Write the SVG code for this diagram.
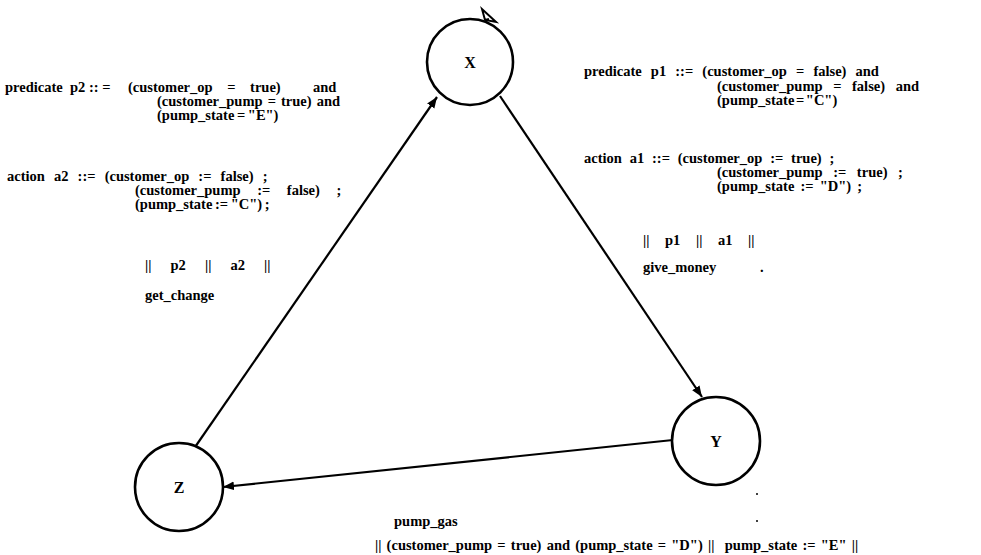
<svg xmlns="http://www.w3.org/2000/svg" width="981" height="555" viewBox="0 0 981 555">
<style>
text{font-family:"Liberation Serif","Times New Roman",serif;font-weight:bold;font-size:14.5px;fill:#000;white-space:pre}
.node circle{fill:#fff;stroke:#000;stroke-width:2.6}
.lbl{font-size:16px;text-anchor:middle}
.edge{stroke:#000;stroke-width:2.2;fill:none;marker-end:url(#ah)}
</style>
<defs>
<marker id="ah" viewBox="0 0 10 10" refX="10" refY="5" markerWidth="5" markerHeight="5" orient="auto" markerUnits="strokeWidth">
<path d="M0,1 L10,5 L0,9 z" fill="#000"/>
</marker>
</defs>
<rect width="981" height="555" fill="#fff"/>
<g id="connectors">
<path class="edge" d="M193,450 L437,97"/>
<path class="edge" d="M500,96 L702,397"/>
<path class="edge" d="M673,440 L223,487"/>
<path d="M482,9 L485,20 L496,22 Z M485,20 L489,19" fill="none" stroke="#000" stroke-width="2"/>
</g>
<g id="node-X" class="node"><circle cx="470" cy="62" r="43"/><text class="lbl" x="470" y="68">X</text></g>
<g id="node-Y" class="node"><circle cx="716" cy="441" r="44"/><text class="lbl" x="716" y="447">Y</text></g>
<g id="node-Z" class="node"><circle cx="179" cy="487" r="44"/><text class="lbl" x="179" y="493">Z</text></g>
<g id="labels-left">
<text x="5" y="92">predicate<tspan x="70">p2 :: =</tspan><tspan x="128" style="word-spacing:11px">(customer_op = true)</tspan><tspan x="313">and</tspan></text>
<text x="157" y="106" style="word-spacing:1.5px">(customer_pump = true) and</text>
<text x="157" y="120" style="word-spacing:-1px">(pump_state = "E")</text>
<text x="7" y="181" style="word-spacing:5.5px">action a2 ::= (customer_op := false) ;</text>
<text x="135" y="195" style="word-spacing:13px">(customer_pump := false) ;</text>
<text x="135" y="209" style="word-spacing:-1px">(pump_state := "C") ;</text>
<text x="145" y="270" style="word-spacing:15.5px">|| p2 || a2 ||</text>
<text x="145" y="300">get_change</text>
</g>
<g id="labels-right">
<text x="584" y="76" style="word-spacing:5.5px">predicate p1 ::= (customer_op = false) and</text>
<text x="717" y="91" style="word-spacing:7px">(customer_pump = false) and</text>
<text x="717" y="105" style="word-spacing:-2px">(pump_state = "C")</text>
<text x="584" y="163" style="word-spacing:4.2px">action a1 ::= (customer_op := true) ;</text>
<text x="717" y="177" style="word-spacing:7px">(customer_pump := true) ;</text>
<text x="717" y="191" style="word-spacing:2.5px">(pump_state := "D") ;</text>
<text x="643" y="245" style="word-spacing:12px">|| p1 || a1 ||</text>
<text x="643" y="272">give_money<tspan x="760">.</tspan></text>
</g>
<g id="labels-bottom">
<text x="394" y="526">pump_gas</text>
<text x="375" y="550" style="word-spacing:1.6px">|| (customer_pump = true) and (pump_state = "D") ||  pump_state := "E" ||</text>
</g>
<circle cx="757" cy="494" r="1" fill="#000"/>
<circle cx="757" cy="521" r="1" fill="#000"/>
</svg>
